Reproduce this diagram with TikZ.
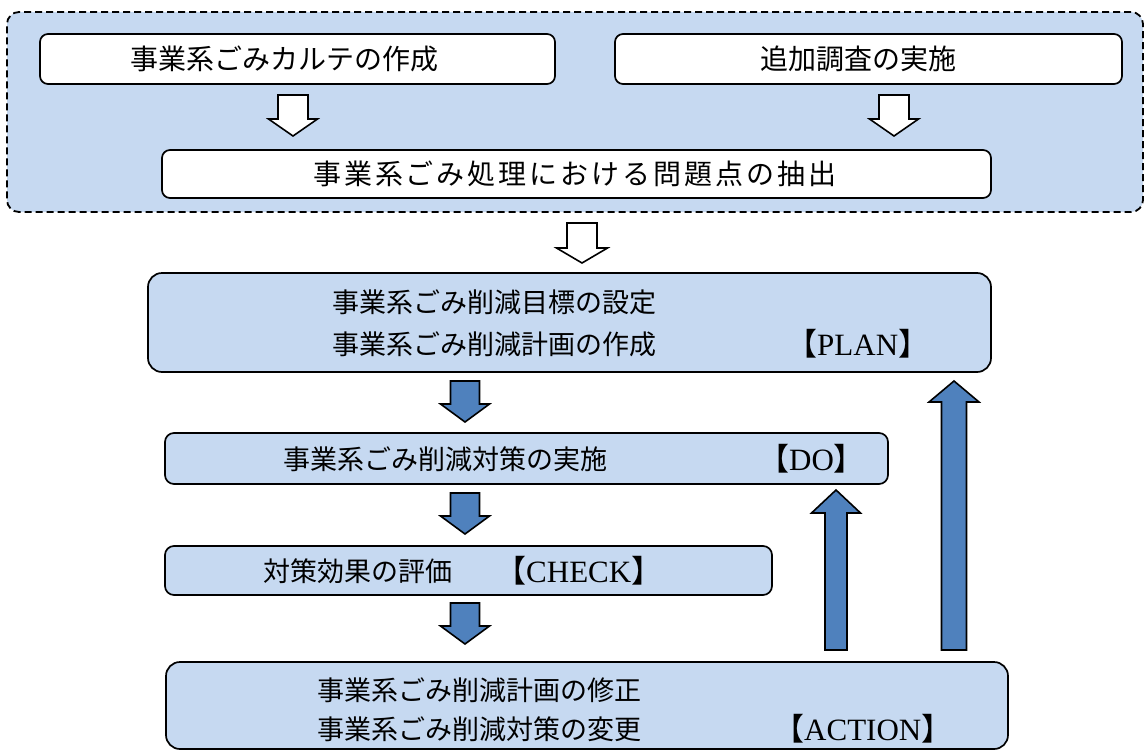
\documentclass[tikz,border=0pt]{standalone}
\usepackage{fontspec}
\setmainfont{Liberation Serif}
\newfontfamily\jp{Noto Sans CJK JP}
\newfontfamily\jpwide[LetterSpace=10.5]{Noto Sans CJK JP}
\definecolor{lightblue}{HTML}{C6D9F1}
\definecolor{arrowblue}{HTML}{4F81BD}
\tikzset{
  box/.style={draw=black, line width=1.7pt, rounded corners=8pt, fill=white, inner sep=0pt},
  bluebox/.style={box, fill=lightblue, rounded corners=14pt},
  txt/.style={anchor=west, inner sep=0pt, font=\jp\fontsize{27}{34}\selectfont},
  bigtxt/.style={anchor=west, inner sep=0pt, font=\jp\fontsize{28}{34}\selectfont},
  ltxt/.style={anchor=west, inner sep=0pt, font=\fontsize{31}{36}\selectfont},
  hollow/.style={draw=black, line width=1.6pt, fill=white, line join=miter},
  solidarr/.style={draw=black, line width=1.6pt, fill=arrowblue, line join=miter},
  pics/downarr/.style args={#1/#2/#3/#4}{code={
    \path[pic actions] (-#1,0) -- (#1,0) -- (#1,#3) -- (#2,#3) -- (0,#4) -- (-#2,#3) -- (-#1,#3) -- cycle;}},
  pics/uparr/.style args={#1/#2/#3/#4}{code={
    \path[pic actions] (-#1,0) -- (#1,0) -- (#1,{-(#4-#3)}) -- (#2,{-(#4-#3)}) -- (0,-#4) -- (-#2,{-(#4-#3)}) -- (-#1,{-(#4-#3)}) -- cycle;}},
}
\begin{document}
\begin{tikzpicture}[x=1pt,y=-1pt]
\useasboundingbox (0,0) rectangle (1147,752);
% outer dashed group
\node[draw=black, line width=1.8pt, dash pattern=on 7pt off 4pt, fill=lightblue, rounded corners=12pt,
      minimum width=1136pt, minimum height=200pt, inner sep=0pt] (group) at (575,112) {};
% top boxes
\node[box, minimum width=515pt, minimum height=50pt] (kart) at (297.5,59) {};
\node[bigtxt] (kartT) at (130,59) {事業系ごみカルテの作成};
\node[box, minimum width=507pt, minimum height=50pt] (tsuika) at (868.5,59) {};
\node[bigtxt] (tsuikaT) at (760,59) {追加調査の実施};
\pic[hollow] at (293,95) {downarr={15/24.5/24/41}};
\pic[hollow] at (894,95) {downarr={15/24.5/24/41}};
\node[box, minimum width=829pt, minimum height=48pt] (mondai) at (576.5,174) {};
\node[anchor=west, inner sep=0pt, font=\jpwide\fontsize{28}{34}\selectfont] (mondaiT) at (313,174) {事業系ごみ処理における問題点の抽出};
\pic[hollow] at (582,223) {downarr={15/25.5/25/40}};
% PLAN
\node[bluebox, minimum width=843pt, minimum height=99pt] (plan) at (569.5,322.5) {};
\node[txt] (planT1) at (332,302) {事業系ごみ削減目標の設定};
\node[txt] (planT2) at (332,344) {事業系ごみ削減計画の作成};
\node[ltxt] (planL) at (786,344) {{\jp 【}PLAN{\jp 】}};
\pic[solidarr] at (465,381) {downarr={14.5/24.5/23/41}};
% DO
\node[bluebox, rounded corners=9pt, minimum width=723pt, minimum height=51pt] (do) at (526.5,458.5) {};
\node[txt] (doT) at (283,459) {事業系ごみ削減対策の実施};
\node[ltxt] (doL) at (758,459) {{\jp 【}DO{\jp 】}};
\pic[solidarr] at (465,493) {downarr={14.5/24.5/23/41}};
% CHECK
\node[bluebox, rounded corners=9pt, minimum width=607pt, minimum height=49pt] (check) at (468.5,570.5) {};
\node[txt] (checkT) at (263,571) {対策効果の評価};
\node[ltxt] (checkL) at (495,571) {{\jp 【}CHECK{\jp 】}};
\pic[solidarr] at (465,603) {downarr={14.5/24.5/23/41}};
% ACTION
\node[bluebox, minimum width=842pt, minimum height=87pt] (action) at (587,705.5) {};
\node[txt] (actT1) at (317,690) {事業系ごみ削減計画の修正};
\node[txt] (actT2) at (317,729) {事業系ごみ削減対策の変更};
\node[ltxt] (actL) at (773,729) {{\jp 【}ACTION{\jp 】}};
% up arrows
\pic[solidarr] at (836,650) {uparr={11/24.5/23/160}};
\pic[solidarr] at (954,650) {uparr={12.5/25/21/269}};
\end{tikzpicture}
\end{document}
